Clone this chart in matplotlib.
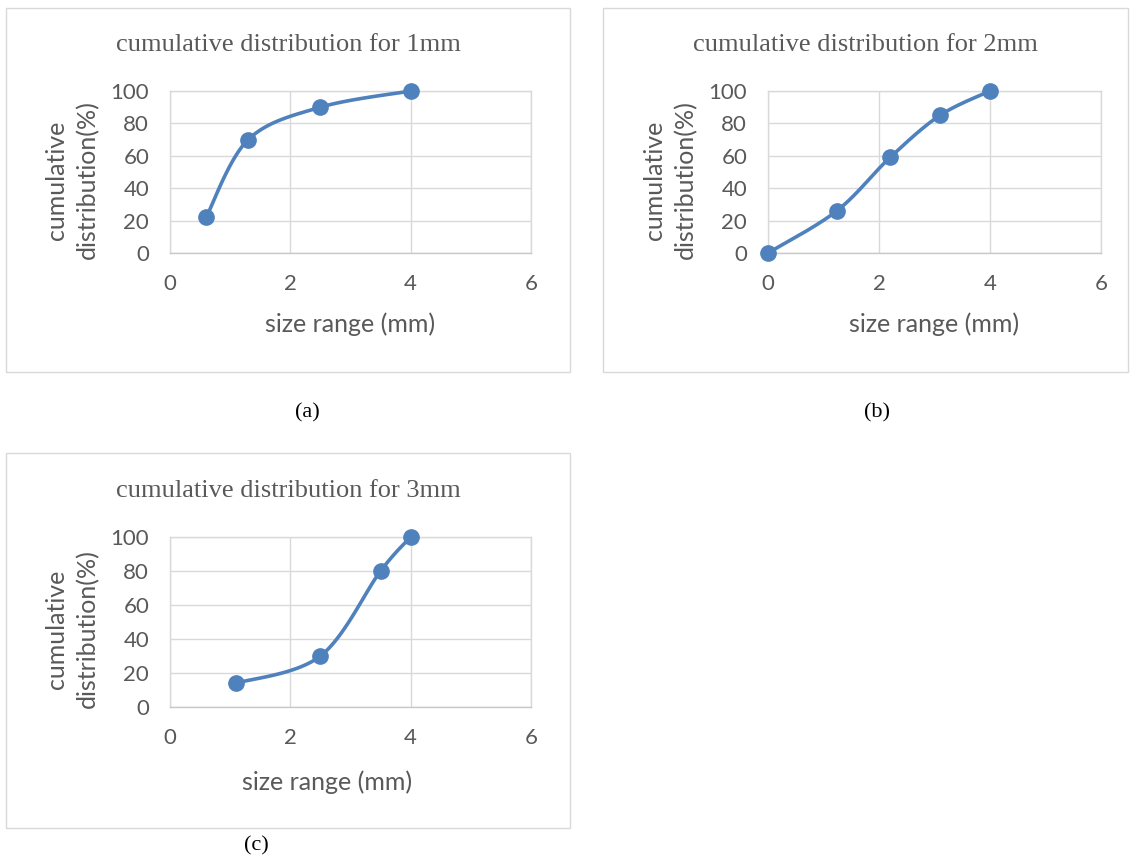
import numpy as np
import matplotlib
matplotlib.use("Agg")
import matplotlib.pyplot as plt
from matplotlib.patches import Rectangle

# ---- data ---------------------------------------------------------------
size_1mm = [0.6, 1.3, 2.5, 4.0]
cum_1mm = [22, 70, 90, 100]
size_2mm = [0.0, 1.24, 2.2, 3.1, 4.0]
cum_2mm = [0, 26, 59, 85, 100]
size_3mm = [1.1, 2.5, 3.5, 4.0]
cum_3mm = [14, 30, 80, 100]
titles = ["cumulative distribution for 1mm",
          "cumulative distribution for 2mm",
          "cumulative distribution for 3mm"]
letters = ["(a)", "(b)", "(c)"]
xticks = [0, 2, 4, 6]
yticks = [0, 20, 40, 60, 80, 100]

# ---- style ----------------------------------------------------------------
BLUE = "#4F81BD"
TXT = "#595959"
GRID = "#D9D9D9"
SANS = ["Lato", "DejaVu Sans"]
SERIF = ["Liberation Serif", "DejaVu Serif"]

W, H = 1130, 860
fig = plt.figure(figsize=(W / 100, H / 100), dpi=100)


def px_box(l, t, r, b):
    return [l / W, 1 - b / H, (r - l) / W, (b - t) / H]


def excel_smooth(ax, xs, ys, n=40):
    # Excel-style smoothed line: bezier segments built in screen space
    pts = ax.transData.transform(np.column_stack([xs, ys]))
    p = np.vstack([pts[0], pts, pts[-1]])
    out = []
    for i in range(1, len(p) - 2):
        p0, p3 = p[i], p[i + 1]
        c1 = p0 + (p[i + 1] - p[i - 1]) / 6
        c2 = p3 - (p[i + 2] - p[i]) / 6
        t = np.linspace(0, 1, n)[:, None]
        seg = ((1 - t) ** 3) * p0 + 3 * ((1 - t) ** 2) * t * c1 \
            + 3 * (1 - t) * t ** 2 * c2 + t ** 3 * p3
        out.append(seg if i == 1 else seg[1:])
    out = np.vstack(out)
    return ax.transData.inverted().transform(out)


panels = [
    dict(x=size_1mm, y=cum_1mm, ax=(170, 91, 531, 253), box=(6, 8, 570, 372),
         title_y=45, xlab=(350, 324), ylab_y=180, letter=(307, 413)),
    dict(x=size_2mm, y=cum_2mm, ax=(768, 91, 1101, 253), box=(603, 8, 1128, 372),
         title_y=45, xlab=(934, 324), ylab_y=180, letter=(877, 413)),
    dict(x=size_3mm, y=cum_3mm, ax=(170, 537, 531, 707), box=(6, 453, 570, 828),
         title_y=491, xlab=(327, 782), ylab_y=629, letter=(256, 846)),
]

for k, pn in enumerate(panels):
    l, t, r, b = pn["ax"]
    bl, bt, br, bb = pn["box"]
    fig.patches.append(Rectangle((bl / W, 1 - bb / H), (br - bl) / W, (bb - bt) / H,
                                 transform=fig.transFigure, fill=False,
                                 edgecolor=GRID, linewidth=1.0))
    ax = fig.add_axes(px_box(l, t, r, b))
    ax.set_xlim(0, 6)
    ax.set_ylim(0, 100)
    ax.set_xticks(xticks)
    ax.set_yticks(yticks)
    ax.grid(True, color=GRID, linewidth=1.0, zorder=0)
    for s in ax.spines.values():
        s.set_color(GRID)
        s.set_linewidth(1.0)
    ax.spines["bottom"].set_color("#C8C8C8")
    ax.tick_params(length=0, labelsize=16, colors=TXT, pad=15)
    for lab in ax.get_xticklabels() + ax.get_yticklabels():
        lab.set_family(SANS)

    curve = excel_smooth(ax, pn["x"], pn["y"])
    ax.plot(curve[:, 0], curve[:, 1], color=BLUE, linewidth=2.6,
            solid_capstyle="round", zorder=3, clip_on=False)
    ax.plot(pn["x"], pn["y"], "o", color=BLUE, markersize=11, zorder=4,
            clip_on=False)

    fig.text((bl + br) / 2 / W, 1 - pn["title_y"] / H, titles[k], ha="center",
             va="center", fontsize=19, color=TXT, family=SERIF)
    fig.text(pn["xlab"][0] / W, 1 - pn["xlab"][1] / H, "size range (mm)",
             ha="center", va="center", fontsize=18, color=TXT, family=SANS)
    fig.text((l - 98) / W, 1 - pn["ylab_y"] / H, "cumulative\ndistribution(%)",
             ha="center", va="center", rotation=90, fontsize=18, color=TXT,
             family=SANS, linespacing=1.4)
    fig.text(pn["letter"][0] / W, 1 - pn["letter"][1] / H, letters[k],
             ha="center", va="center", fontsize=16, color="black", family=SERIF)

fig.savefig("out.png", dpi=100)
